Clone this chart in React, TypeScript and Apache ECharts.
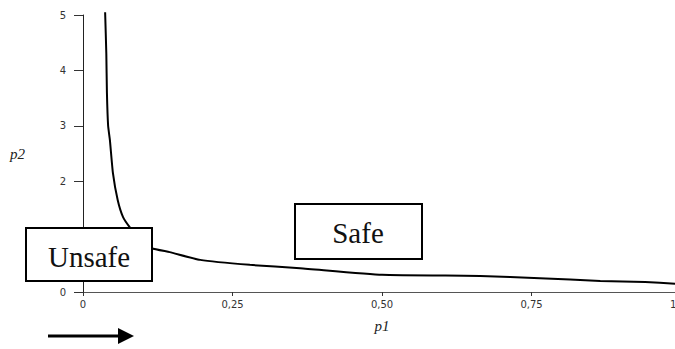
import React, { useEffect, useRef } from "react";
import * as echarts from "echarts";

// Boundary curve p2(p1) between the unsafe and safe regions
const p1Values = [0.037, 0.039, 0.040, 0.042, 0.045, 0.050, 0.058, 0.067, 0.078, 0.095, 0.115, 0.145, 0.196, 0.279, 0.363, 0.50, 0.664, 0.764, 0.865, 0.94, 0.99];
const p2Values = [5.05, 4.3, 3.6, 3.0, 2.74, 2.15, 1.66, 1.35, 1.17, 0.95, 0.79, 0.72, 0.58, 0.49, 0.43, 0.31, 0.29, 0.25, 0.20, 0.18, 0.15];

const xTicks = [0, 0.25, 0.5, 0.75, 1];
const yTicks = [0, 1, 2, 3, 4, 5];

const regionLabels = ["Unsafe", "Safe"];
const axisNames = ["p1", "p2"];

const fmtComma = (v: number) => (v === 0 ? "0" : v.toFixed(2).replace(".", ","));

// The plot runs slightly past the right edge of the visible frame
const FRAME_W = 675;
const FRAME_H = 349;
const CHART_W = 690;

export default function App() {
  const ref = useRef<HTMLDivElement>(null);

  useEffect(() => {
    if (!ref.current) return;
    const chart = echarts.init(ref.current, null, { renderer: "svg" });
    const data = p1Values.map((x, i) => [x, p2Values[i]]);
    const serif = "'Liberation Serif', 'Times New Roman', serif";
    const tickFont = "'DejaVu Sans', Verdana, sans-serif";
    const Z = 100;

    chart.setOption({
      animation: false,
      backgroundColor: "#ffffff",
      grid: {
        left: 83,
        right: CHART_W - 681,
        top: 15,
        bottom: 57,
        containLabel: false,
        outerBoundsMode: "none",
      },
      xAxis: {
        type: "value",
        min: xTicks[0],
        max: xTicks[xTicks.length - 1],
        interval: 0.25,
        name: axisNames[0],
        nameLocation: "middle",
        nameGap: 26,
        nameTextStyle: { fontFamily: serif, fontStyle: "italic", fontSize: 15, color: "#222" },
        axisLine: { lineStyle: { color: "#555", width: 1 } },
        axisTick: { show: true, length: 4, lineStyle: { color: "#333" } },
        axisLabel: {
          margin: 7,
          fontFamily: tickFont,
          fontSize: 10,
          color: "#333",
          formatter: (v: number) => fmtComma(v),
        },
        splitLine: { show: false },
      },
      yAxis: {
        type: "value",
        min: yTicks[0],
        max: yTicks[yTicks.length - 1],
        interval: 1,
        name: axisNames[1],
        nameLocation: "middle",
        nameRotate: 0,
        nameGap: 58,
        nameTextStyle: { fontFamily: serif, fontStyle: "italic", fontSize: 15, color: "#222" },
        axisLine: { show: true, lineStyle: { color: "#222", width: 1 } },
        axisTick: { show: true, length: 9, lineStyle: { color: "#333" } },
        axisLabel: {
          margin: 17,
          fontFamily: tickFont,
          fontSize: 10,
          color: "#333",
        },
        splitLine: { show: false },
      },
      series: [
        {
          type: "line",
          data,
          smooth: 0.15,
          showSymbol: false,
          clip: false,
          lineStyle: { color: "#000", width: 2 },
          z: 2,
        },
      ],
      graphic: [
        {
          type: "rect",
          z: Z,
          shape: { x: 26, y: 228, width: 126, height: 53 },
          style: { fill: "#fff", stroke: "#000", lineWidth: 2 },
        },
        {
          type: "text",
          z: Z + 1,
          x: 89,
          y: 257,
          style: {
            text: regionLabels[0],
            font: `29px ${serif}`,
            fill: "#111",
            align: "center",
            verticalAlign: "middle",
          },
        },
        {
          type: "rect",
          z: Z,
          shape: { x: 295, y: 204, width: 127, height: 55 },
          style: { fill: "#fff", stroke: "#000", lineWidth: 2 },
        },
        {
          type: "text",
          z: Z + 1,
          x: 358,
          y: 233,
          style: {
            text: regionLabels[1],
            font: `29px ${serif}`,
            fill: "#111",
            align: "center",
            verticalAlign: "middle",
          },
        },
        {
          type: "line",
          z: Z,
          shape: { x1: 48, y1: 336, x2: 120, y2: 336 },
          style: { stroke: "#000", lineWidth: 3 },
        },
        {
          type: "polygon",
          z: Z,
          shape: { points: [[118, 328], [134, 336], [118, 344]] },
          style: { fill: "#000" },
        },
      ],
    });

    return () => chart.dispose();
  }, []);

  return (
    <div
      style={{
        position: "absolute",
        left: 0,
        top: 0,
        width: FRAME_W,
        height: FRAME_H,
        overflow: "hidden",
        background: "#fff",
      }}
    >
      <div ref={ref} style={{ width: CHART_W, height: FRAME_H }} />
    </div>
  );
}
